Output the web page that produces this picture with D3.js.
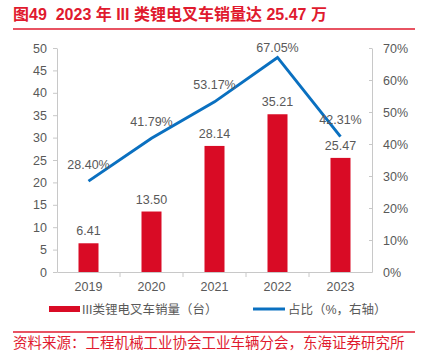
<!DOCTYPE html>
<html><head><meta charset="utf-8">
<script src="https://cdn.jsdelivr.net/npm/d3@7"></script>
<style>body{margin:0;background:#fff;}svg{display:block;}</style>
</head><body>
<svg id="c" width="421" height="362"></svg>
<script>
const years = ["2019","2020","2021","2022","2023"];
const sales = [6.41, 13.50, 28.14, 35.21, 25.47];
const shares = [28.40, 41.79, 53.17, 67.05, 42.31];
const leftTicks = [0,5,10,15,20,25,30,35,40,45,50];
const rightTicks = [0,10,20,30,40,50,60,70];
const titleText = "图49  2023 年 III 类锂电叉车销量达 25.47 万";
const sourceText = "资料来源：工程机械工业协会工业车辆分会，东海证券研究所";
const legendBar = "III类锂电叉车销量（台）";
const legendLine = "占比（%，右轴）";

const FONT = "'Liberation Sans', Arial, 'Noto Sans CJK SC', sans-serif";
const RED = "#d90b25", TRED = "#e01a2e", BLUE = "#0a70c0", GRAY = "#595959", AX = "#c8c8c8";
const svg = d3.select("#c");
const m = {l:57, r:372, t:48, b:272};

svg.append("text").attr("x",13).attr("y",20).attr("fill",TRED)
  .attr("font-family",FONT).attr("font-weight","bold").attr("font-size",16).attr("xml:space","preserve").text(titleText);
svg.append("line").attr("x1",13).attr("x2",415).attr("y1",29).attr("y2",29).attr("stroke",TRED).attr("stroke-width",1.5);

const x = d3.scaleBand().domain(years).range([m.l,m.r]);
const yL = d3.scaleLinear().domain([0,50]).range([m.b,m.t]);
const yR = d3.scaleLinear().domain([0,70]).range([m.b,m.t]);

function styleAxis(g){
  g.selectAll("path,line").attr("stroke",AX);
  g.selectAll("text").attr("fill",GRAY).attr("font-family",FONT).attr("font-size",12.5);
}
svg.append("g").attr("transform",`translate(${m.l},0)`)
  .call(d3.axisLeft(yL).tickValues(leftTicks).tickSize(4).tickSizeOuter(0).tickPadding(6))
  .call(styleAxis);
svg.append("g").attr("transform",`translate(${m.r},0)`)
  .call(d3.axisRight(yR).tickValues(rightTicks).tickFormat(d=>d+"%").tickSize(3).tickSizeOuter(0).tickPadding(8))
  .call(g=>g.selectAll(".tick line").attr("x1",-3).attr("x2",0))
  .call(styleAxis);
// x axis
const xg = svg.append("g").attr("transform",`translate(0,${m.b})`)
  .call(d3.axisBottom(x).tickSize(0).tickPadding(10)).call(styleAxis);
xg.selectAll(".bdr").data(years.slice(1)).enter().append("line")
  .attr("x1",d=>x(d)).attr("x2",d=>x(d)).attr("y1",0).attr("y2",5).attr("stroke",AX);

const bw = 20;
svg.append("g").selectAll("rect").data(sales).enter().append("rect")
  .attr("x",(d,i)=>x(years[i])+x.bandwidth()/2-bw/2).attr("width",bw)
  .attr("y",d=>yL(d)).attr("height",d=>m.b-yL(d)).attr("fill",RED);
svg.append("g").selectAll("text").data(sales).enter().append("text")
  .attr("x",(d,i)=>x(years[i])+x.bandwidth()/2).attr("y",d=>yL(d)-8)
  .attr("text-anchor","middle").attr("fill",GRAY).attr("font-family",FONT).attr("font-size",12.5)
  .text(d=>d.toFixed(2));

const line = d3.line().x((d,i)=>x(years[i])+x.bandwidth()/2).y(d=>yR(d));
svg.append("path").datum(shares).attr("d",line).attr("fill","none").attr("stroke",BLUE).attr("stroke-width",3);
svg.append("g").selectAll("text").data(shares).enter().append("text")
  .attr("x",(d,i)=>x(years[i])+x.bandwidth()/2).attr("y",d=>Math.max(yR(d)-12.5, m.t+4))
  .attr("text-anchor","middle").attr("fill",GRAY).attr("font-family",FONT).attr("font-size",12.5)
  .text(d=>d.toFixed(2)+"%");

// legend
svg.append("rect").attr("x",49).attr("y",306).attr("width",31).attr("height",6).attr("fill",RED);
svg.append("text").attr("x",82).attr("y",313.5).attr("fill",GRAY).attr("font-family",FONT).attr("font-size",12.5).text(legendBar);
svg.append("line").attr("x1",253).attr("x2",285).attr("y1",309).attr("y2",309).attr("stroke",BLUE).attr("stroke-width",3);
svg.append("text").attr("x",288).attr("y",313.5).attr("fill",GRAY).attr("font-family",FONT).attr("font-size",12.5).text(legendLine);

svg.append("line").attr("x1",13).attr("x2",415).attr("y1",332).attr("y2",332).attr("stroke",TRED).attr("stroke-width",1.5);
svg.append("text").attr("x",13).attr("y",348).attr("fill",TRED).attr("font-family",FONT).attr("font-size",14.5).text(sourceText);
</script>
</body></html>
